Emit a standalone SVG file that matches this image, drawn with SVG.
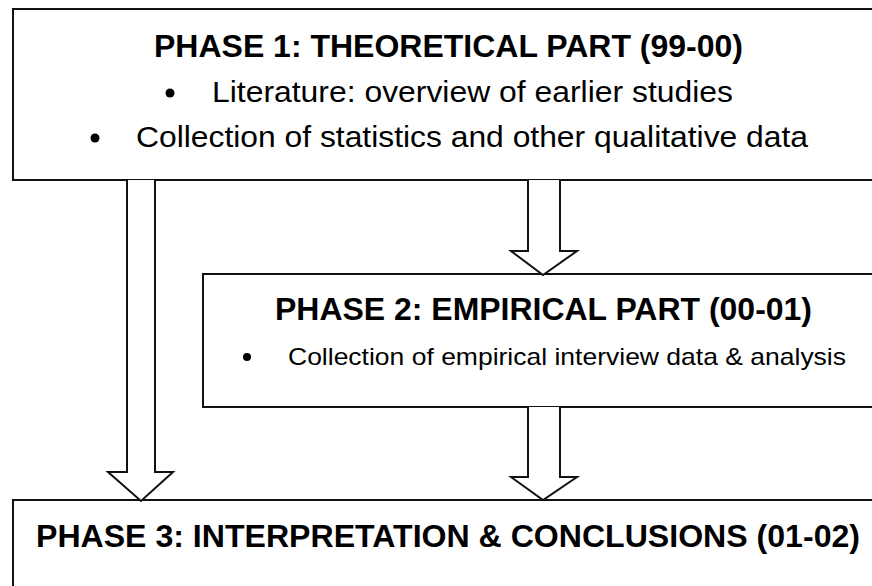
<svg xmlns="http://www.w3.org/2000/svg" width="872" height="586" viewBox="0 0 872 586">
<style>
.box{fill:#fff;stroke:#111;stroke-width:2}
.arr{fill:#fff;stroke:#111;stroke-width:2;stroke-linejoin:miter}
.t{font-family:"Liberation Sans",Arial,sans-serif;fill:#000}
.b{font-weight:bold}
</style>
<rect width="872" height="586" fill="#fff"/>
<g id="phase1">
<rect class="box" x="13" y="9" width="880" height="171"/>
<text class="t b" x="154" y="57" font-size="30.5" textLength="589" lengthAdjust="spacingAndGlyphs">PHASE 1: THEORETICAL PART (99-00)</text>
<circle cx="170" cy="93" r="4.5"/>
<text class="t" x="212" y="102" font-size="30" textLength="521" lengthAdjust="spacingAndGlyphs">Literature: overview of earlier studies</text>
<circle cx="95" cy="138" r="4.5"/>
<text class="t" x="136" y="147" font-size="30" textLength="672" lengthAdjust="spacingAndGlyphs">Collection of statistics and other qualitative data</text>
</g>
<g id="phase2">
<rect class="box" x="203" y="274" width="690" height="133"/>
<text class="t b" x="275" y="320" font-size="30.5" textLength="537" lengthAdjust="spacingAndGlyphs">PHASE 2: EMPIRICAL PART (00-01)</text>
<circle cx="247" cy="357" r="4"/>
<text class="t" x="288" y="365" font-size="24" textLength="558" lengthAdjust="spacingAndGlyphs">Collection of empirical interview data &amp; analysis</text>
</g>
<g id="phase3">
<rect class="box" x="13" y="500" width="880" height="100"/>
<text class="t b" x="36" y="547" font-size="30.5" textLength="824" lengthAdjust="spacingAndGlyphs">PHASE 3: INTERPRETATION &amp; CONCLUSIONS (01-02)</text>
</g>
<g id="connectors">
<path class="arr" d="M127,180 V472 H108 L141,501 L173,472 H155 V180"/>
<path class="arr" d="M528,180 V251 H511 L543,275 L577,251 H560 V180"/>
<path class="arr" d="M528,407 V477 H511 L543,500 L577,477 H560 V407"/>
</g>
</svg>
